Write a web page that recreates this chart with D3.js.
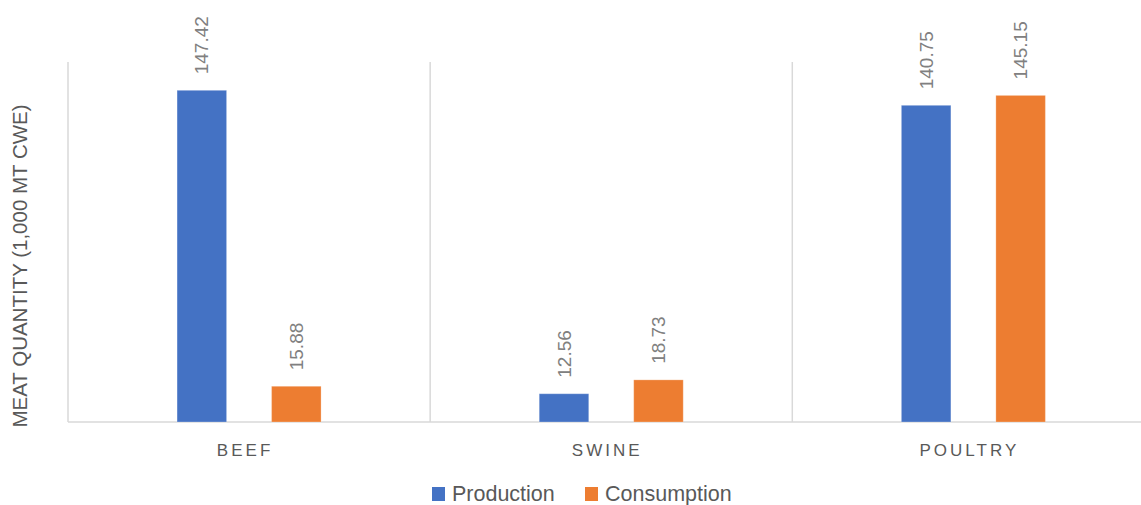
<!DOCTYPE html>
<html>
<head>
<meta charset="utf-8">
<script src="https://d3js.org/d3.v7.min.js"></script>
<style>
  body { margin: 0; background: #fff; }
  svg { display: block; font-family: "Liberation Sans", Arial, sans-serif; }
</style>
</head>
<body>
<svg id="chart"></svg>
<script>
var width = 1141;
var height = 505;

// data
var categories = ["BEEF", "SWINE", "POULTRY"];
var seriesNames = ["Production", "Consumption"];
var production = [147.42, 12.56, 140.75];
var consumption = [15.88, 18.73, 145.15];
var colors = ["#4472C4", "#ED7D31"];
var yTitle = "MEAT QUANTITY (1,000 MT CWE)";

var margin = {top: 62, left: 68, bottom: 422};
var step = 362.15;

var svg = d3.select("#chart")
    .attr("width", width)
    .attr("height", height);

// category bands, plot runs a little past the right edge like the original
var x0 = d3.scaleBand()
    .domain(categories)
    .range([margin.left, margin.left + step * categories.length])
    .padding(0);

var x1 = d3.scaleBand()
    .domain(seriesNames)
    .range([0, 144])
    .paddingInner(0.476);

var y = d3.scaleLinear()
    .domain([0, 160])
    .range([margin.bottom, margin.top]);

// vertical separators between categories
svg.append("g")
    .selectAll("line")
    .data(categories)
    .join("line")
    .attr("x1", d => x0(d))
    .attr("x2", d => x0(d))
    .attr("y1", y(160))
    .attr("y2", y(0))
    .attr("stroke", "#d9d9d9")
    .attr("stroke-width", 1.5);

// baseline
svg.append("line")
    .attr("x1", x0.range()[0])
    .attr("x2", x0.range()[1])
    .attr("y1", y(0))
    .attr("y2", y(0))
    .attr("stroke", "#d9d9d9")
    .attr("stroke-width", 1.5);

var rows = categories.map((c, i) => ({
    cat: c,
    values: [
        {name: seriesNames[0], value: production[i]},
        {name: seriesNames[1], value: consumption[i]}
    ]
}));

var groups = svg.append("g")
    .selectAll("g")
    .data(rows)
    .join("g")
    .attr("transform", d => `translate(${x0(d.cat) + x0.bandwidth() / 2 - 72}, 0)`);

groups.selectAll("rect")
    .data(d => d.values)
    .join("rect")
    .attr("x", d => x1(d.name))
    .attr("y", d => y(d.value))
    .attr("width", x1.bandwidth())
    .attr("height", d => y(0) - y(d.value))
    .attr("fill", (d, i) => colors[i])
    .attr("stroke", "#fff")
    .attr("stroke-opacity", 0.25)
    .attr("stroke-width", 1);

// rotated value labels
groups.selectAll("text")
    .data(d => d.values)
    .join("text")
    .attr("transform", d => `translate(${x1(d.name) + x1.bandwidth() / 2}, ${y(d.value) - 16}) rotate(-90)`)
    .attr("dy", "0.35em")
    .attr("text-anchor", "start")
    .attr("fill", "#808080")
    .style("font-size", "19px")
    .text(d => d.value.toFixed(2));

// category labels
svg.append("g")
    .selectAll("text")
    .data(categories)
    .join("text")
    .attr("x", d => x0(d) + x0.bandwidth() / 2 - 4)
    .attr("y", 456)
    .attr("text-anchor", "middle")
    .attr("fill", "#595959")
    .style("font-size", "17px")
    .style("letter-spacing", "3px")
    .text(d => d);

// y axis title
svg.append("text")
    .attr("transform", "translate(27, 266) rotate(-90)")
    .attr("text-anchor", "middle")
    .attr("fill", "#595959")
    .style("font-size", "20.5px")
    .text(yTitle);

// legend
var legendX = [432, 585];
var legend = svg.append("g")
    .selectAll("g")
    .data(seriesNames)
    .join("g")
    .attr("transform", (d, i) => `translate(${legendX[i]}, 487)`);

legend.append("rect")
    .attr("width", 13)
    .attr("height", 14)
    .attr("fill", (d, i) => colors[i]);

legend.append("text")
    .attr("x", 20)
    .attr("y", 13.5)
    .attr("fill", "#595959")
    .style("font-size", "21.5px")
    .text(d => d);
</script>
</body>
</html>
